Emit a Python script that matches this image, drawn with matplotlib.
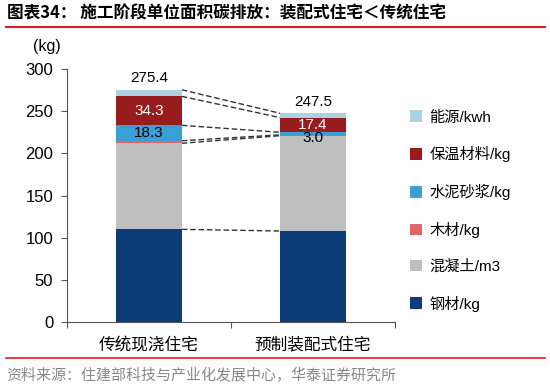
import numpy as np
import matplotlib.pyplot as plt
from matplotlib.lines import Line2D
from matplotlib.patches import Patch

plt.rcParams['font.family'] = ['Liberation Sans', 'Noto Sans CJK SC', 'DejaVu Sans']

categories = ['传统现浇住宅', '预制装配式住宅']
series_names = ['钢材/kg', '混凝土/m3', '木材/kg', '水泥砂浆/kg', '保温材料/kg', '能源/kwh']
steel = [110.0, 108.0]
concrete = [102.0, 113.0]
wood = [3.0, 1.0]
mortar = [18.3, 3.0]
insulation = [34.3, 17.4]
energy = [7.8, 5.1]
totals = [275.4, 247.5]
colors = ['#0c3c78', '#bfbfbf', '#e06666', '#3a9fd4', '#981b1e', '#abd3e1']

series = [steel, concrete, wood, mortar, insulation, energy]

fig = plt.figure(figsize=(5.5, 3.9), dpi=100)
ax = fig.add_axes([0.122, 0.174, 0.596, 0.649])

x = np.arange(len(categories))
width = 0.4
bottom = np.zeros(len(categories))
tops = []
for vals, col in zip(series, colors):
    ax.bar(x, vals, width, bottom=bottom, color=col, edgecolor='none', zorder=2)
    bottom = bottom + np.array(vals)
    tops.append(bottom.copy())

# dashed connectors between the two bars
for t in tops:
    ax.plot([x[0] + width / 2, x[1] - width / 2], [t[0], t[1]],
            ls=(0, (4, 2)), color='#333333', lw=1, zorder=1)

# segment labels
base_ins = np.array(steel) + concrete + wood + mortar
base_mortar = np.array(steel) + concrete + wood
ax.text(0, base_ins[0] + insulation[0] / 2, f'{insulation[0]:.1f}', color='white',
        ha='center', va='center', fontsize=11)
ax.text(0, base_mortar[0] + mortar[0] / 2, f'{mortar[0]:.1f}', color='black',
        ha='center', va='center', fontsize=11)
ax.text(1, base_ins[1] + insulation[1] / 2, f'{insulation[1]:.1f}', color='white',
        ha='center', va='center', fontsize=11)
ax.text(1, base_mortar[1] - 3.5, f'{mortar[1]:.1f}', color='black',
        ha='center', va='center', fontsize=11)
for i, tot in enumerate(totals):
    ax.text(x[i], tot + 14, f'{tot:.1f}', ha='center', va='center', fontsize=11)

ax.set_xlim(-0.5, 1.5)
ax.set_ylim(0, 300)
ax.set_yticks(range(0, 301, 50))
ax.tick_params(axis='y', labelsize=12, length=4, color='#555555', pad=6)
ax.set_xticks([-0.5, 0.5, 1.5])
ax.set_xticklabels([])
ax.tick_params(axis='x', length=4, color='#555555')
for i, c in enumerate(categories):
    ax.text(x[i], -27, c, ha='center', va='center', fontsize=12)
for s in ['top', 'right']:
    ax.spines[s].set_visible(False)
for s in ['left', 'bottom']:
    ax.spines[s].set_color('#555555')

fig.text(0.085, 0.88, '(kg)', fontsize=11.5, ha='center', va='center')

handles = [Patch(facecolor=c, edgecolor='none') for c in colors[::-1]]
fig.legend(handles, series_names[::-1], loc='upper left', bbox_to_anchor=(0.72, 0.752),
           frameon=False, fontsize=11, handlelength=0.8, handleheight=0.8,
           labelspacing=1.42, handletextpad=0.5)

fig.text(0.012, 0.965, '图表34： 施工阶段单位面积碳排放：装配式住宅＜传统住宅',
         fontsize=12, fontweight='bold', ha='left', va='center',
         family=['Noto Sans CJK SC', 'DejaVu Sans'])
fig.add_artist(Line2D([0.01, 0.99], [0.93, 0.93], color='#e8141b', lw=1.5))
fig.add_artist(Line2D([0.01, 0.99], [0.082, 0.082], color='#e8141b', lw=1.2))
fig.text(0.012, 0.038, '资料来源：住建部科技与产业化发展中心，华泰证券研究所',
         fontsize=10.8, color='#888888', ha='left', va='center',
         family=['Noto Sans CJK SC', 'DejaVu Sans'])

fig.savefig('out.png', dpi=100)
